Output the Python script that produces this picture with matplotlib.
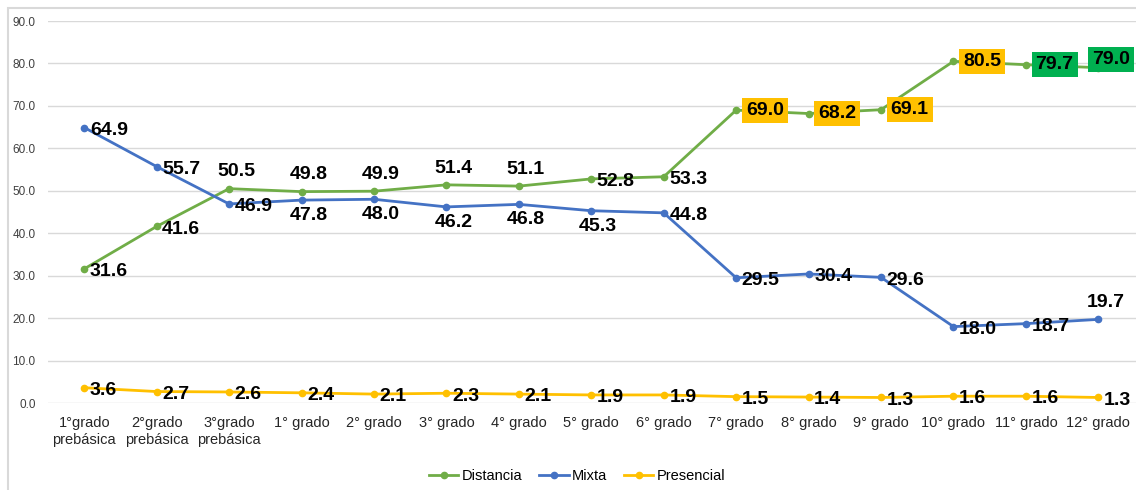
import matplotlib
matplotlib.use("Agg")
import matplotlib.pyplot as plt
from matplotlib import font_manager
from matplotlib.patches import Rectangle

# pick a narrow font if there is one
names = set(f.name for f in font_manager.fontManager.ttflist)
fam = "Liberation Sans Narrow" if "Liberation Sans Narrow" in names else "Liberation Sans"
plt.rcParams['font.family'] = [fam, 'DejaVu Sans']

grados = ["1°grado\nprebásica", "2°grado\nprebásica", "3°grado\nprebásica",
          "1° grado", "2° grado", "3° grado", "4° grado", "5° grado", "6° grado",
          "7° grado", "8° grado", "9° grado", "10° grado", "11° grado", "12° grado"]
distancia = [31.6, 41.6, 50.5, 49.8, 49.9, 51.4, 51.1, 52.8, 53.3, 69.0, 68.2, 69.1, 80.5, 79.7, 79.0]
mixta = [64.9, 55.7, 46.9, 47.8, 48.0, 46.2, 46.8, 45.3, 44.8, 29.5, 30.4, 29.6, 18.0, 18.7, 19.7]
presencial = [3.6, 2.7, 2.6, 2.4, 2.1, 2.3, 2.1, 1.9, 1.9, 1.5, 1.4, 1.3, 1.6, 1.6, 1.3]

# label placement: r = right, a = above, b = below, c = above but boxed over the point
pos_dist = ["r", "r", "a", "a", "a", "a", "a", "r", "r", "r", "r", "r", "r", "r", "c"]
pos_mixta = ["r", "r", "r", "b", "b", "b", "b", "b", "r", "r", "r", "r", "r", "r", "a"]
box_dist = [None] * 9 + ["#FFC000"] * 4 + ["#00B050"] * 2

fig = plt.figure(figsize=(11.36, 4.90), dpi=100)
ax = fig.add_axes([48 / 1136, 87 / 490, 1 - 48 / 1136, 382 / 490])

fig.patches.append(Rectangle((8 / 1136, -0.1), 1.2, (482 / 490) + 0.1, transform=fig.transFigure,
                             fill=False, edgecolor="#d9d9d9", linewidth=1.5, zorder=0))

x = list(range(len(grados)))
ax.plot(x, distancia, color="#70AD47", lw=2, marker="o", ms=4.5, label="Distancia")
ax.plot(x, mixta, color="#4472C4", lw=2, marker="o", ms=4.5, label="Mixta")
ax.plot(x, presencial, color="#FFC000", lw=2, marker="o", ms=4.5, label="Presencial")

def put_labels(vals, poss, boxes=None):
    for i, v in enumerate(vals):
        p = poss[i]
        if p == "r":
            off, ha, va = (4, -2), "left", "center"
        elif p == "a":
            off, ha, va = (5, 6), "center", "bottom"
        elif p == "c":
            off, ha, va = (9, 6), "center", "center"
        else:
            off, ha, va = (5, -5), "center", "top"
        bbox = None
        if boxes is not None and boxes[i] is not None:
            bbox = dict(boxstyle="square,pad=0.2", fc=boxes[i], ec="none")
            if p == "r":
                off = (7, 0)
        ax.annotate(f"{v:.1f}", (i, v), xytext=off, textcoords="offset points",
                    ha=ha, va=va, fontsize=14, fontweight="bold", color="black",
                    bbox=bbox, zorder=5)

put_labels(distancia, pos_dist, box_dist)
put_labels(mixta, pos_mixta)
put_labels(presencial, ["r"] * len(presencial))

ax.set_xlim(-0.5, 14.52)
ax.set_ylim(0, 90)
ax.set_yticks(range(0, 91, 10))
ax.set_yticklabels([f"{t:.1f}" for t in range(0, 91, 10)], fontsize=8.5, color="#404040")
ax.set_xticks(x)
ax.set_xticklabels(grados, fontsize=10.5, color="#262626", linespacing=1.3)
ax.tick_params(axis="both", length=0)
ax.tick_params(axis="x", pad=9)
ax.tick_params(axis="y", pad=9)
ax.grid(axis="y", color="#d9d9d9", lw=1)
ax.set_axisbelow(True)
for s in ax.spines.values():
    s.set_visible(False)

fig.legend(loc="center", bbox_to_anchor=(0.508, 0.028), ncol=3, frameon=False,
           fontsize=10.5, handlelength=2, handletextpad=0.2, columnspacing=1.2)

fig.savefig("out.png", dpi=100)
